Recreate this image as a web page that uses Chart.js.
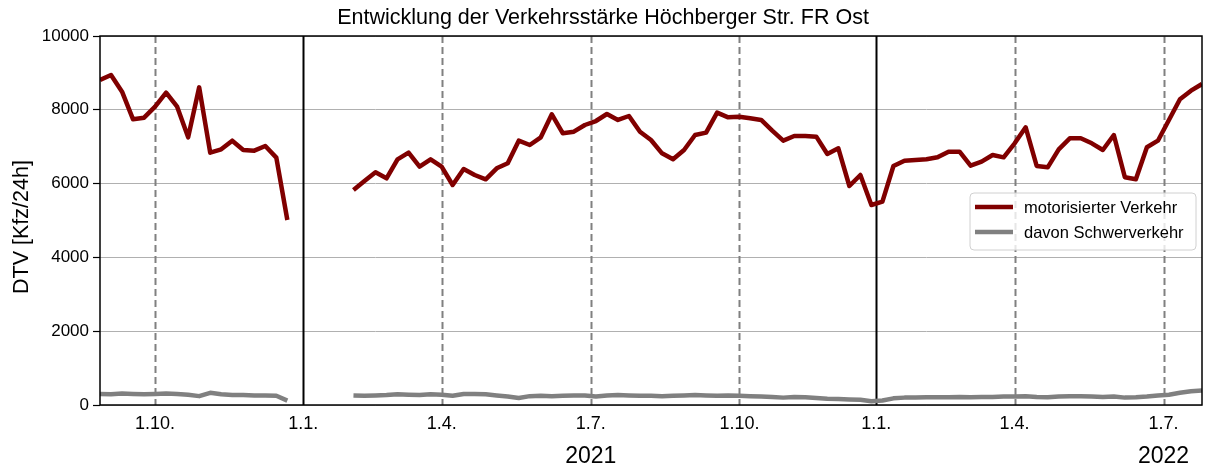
<!DOCTYPE html>
<html><head><meta charset="utf-8">
<script src="https://cdn.jsdelivr.net/npm/chart.js@4/dist/chart.umd.min.js"></script>
<style>html,body{margin:0;padding:0;background:#fff}#wrap{width:1206px;height:471px;position:relative}</style>
</head><body><div id="wrap"><canvas id="c" width="1206" height="471"></canvas></div>
<script>
// weekly values, one entry per calendar week (index 0 = late Aug 2020)
const motorisiert = [
 8808, 8943, 8491, 7742, 7786, 8085, 8464, 8085, 7254, 8609,
 6838, 6929, 7163, 6911, 6893, 7019, 6703, 5014, null, null,
 null, null, null, 5827, 6070, 6305, 6143, 6658, 6838, 6458,
 6658, 6458, 5962, 6396, 6233, 6116, 6414, 6550, 7163, 7046,
 7254, 7878, 7363, 7407, 7588, 7696, 7886, 7724, 7832, 7407,
 7182, 6820, 6658, 6911, 7317, 7381, 7922, 7796, 7814, 7769,
 7724, 7434, 7163, 7290, 7290, 7272, 6802, 6957, 5935, 6233,
 5420, 5510, 6477, 6621, 6640, 6658, 6712, 6865, 6865, 6485,
 6594, 6775, 6712, 7092, 7525, 6477, 6441, 6929, 7227, 7227,
 7092, 6911, 7317, 6171, 6116, 6984, 7163, 7724, 8285, 8518,
 8699
];
const schwer = [
 300, 290, 310, 300, 290, 300, 310, 300, 280, 240,
 330, 290, 270, 270, 260, 260, 250, 120, null, null,
 null, null, null, 260, 250, 260, 270, 290, 280, 270,
 290, 280, 250, 300, 300, 290, 260, 230, 190, 240,
 250, 240, 250, 260, 260, 230, 260, 270, 260, 250,
 250, 240, 250, 260, 270, 260, 250, 260, 250, 240,
 230, 220, 200, 220, 210, 190, 170, 160, 150, 140,
 100, 120, 180, 200, 200, 210, 210, 210, 220, 210,
 220, 220, 230, 230, 240, 220, 210, 230, 240, 240,
 230, 220, 230, 200, 210, 230, 260, 280, 330, 370,
 390
];
const seriesNames = ['motorisierter Verkehr', 'davon Schwerverkehr'];
const seriesColors = ['#800000', '#808080'];
// x-axis ticks (position in weeks) and labels
const tickPos    = [4.99, 18.45, 31.02, 44.54, 58.03, 70.43, 82.99, 96.51];
const tickLabels = ['1.10.', '1.1.', '1.4.', '1.7.', '1.10.', '1.1.', '1.4.', '1.7.'];
const yearStart  = [false, true, false, false, false, true, false, false];
const yearLabels = ['', '', '', '2021', '', '', '', '2022'];
const yTicks = [0, 2000, 4000, 6000, 8000, 10000];
const chartTitle = 'Entwicklung der Verkehrsstärke Höchberger Str. FR Ost';
const yTitle = 'DTV [Kfz/24h]';

const FONT = "'Liberation Sans', Arial, sans-serif";

const deco = {
  id: 'deco',
  beforeDatasetsDraw(chart) {
    const {ctx, chartArea: a, scales: {x}} = chart;
    ctx.save();
    ctx.beginPath(); ctx.rect(a.left, a.top, a.right - a.left, a.bottom - a.top); ctx.clip();
    tickPos.forEach((v, i) => {
      const px = Math.round(x.getPixelForValue(v)) + 0.5;
      ctx.beginPath();
      if (yearStart[i]) { ctx.strokeStyle = '#000'; ctx.lineWidth = 2; ctx.setLineDash([]); }
      else { ctx.strokeStyle = '#808080'; ctx.lineWidth = 2; ctx.setLineDash([7, 4]); }
      ctx.moveTo(px, a.top); ctx.lineTo(px, a.bottom); ctx.stroke();
    });
    ctx.restore();
  },
  afterDraw(chart) {
    const {ctx, chartArea: a, scales: {x}} = chart;
    ctx.save();
    // frame
    ctx.strokeStyle = '#000'; ctx.lineWidth = 1.5; ctx.setLineDash([]);
    ctx.strokeRect(a.left, a.top, a.right - a.left, a.bottom - a.top);
    // title (figure-centred)
    ctx.fillStyle = '#000'; ctx.font = '21.5px ' + FONT;
    ctx.textAlign = 'center'; ctx.textBaseline = 'middle';
    ctx.fillText(chartTitle, chart.width / 2, 18);
    // y axis title
    ctx.save();
    ctx.translate(22, 227); ctx.rotate(-Math.PI / 2);
    ctx.fillText(yTitle, 0, 0);
    ctx.restore();
    // year labels
    ctx.font = '23px ' + FONT;
    yearLabels.forEach((t, i) => { if (t) ctx.fillText(t, x.getPixelForValue(tickPos[i]), 457); });
    // legend
    const bx = 970, by = 193, bw = 226, bh = 57, r = 4;
    ctx.beginPath();
    ctx.moveTo(bx + r, by); ctx.lineTo(bx + bw - r, by); ctx.arcTo(bx + bw, by, bx + bw, by + r, r);
    ctx.lineTo(bx + bw, by + bh - r); ctx.arcTo(bx + bw, by + bh, bx + bw - r, by + bh, r);
    ctx.lineTo(bx + r, by + bh); ctx.arcTo(bx, by + bh, bx, by + bh - r, r);
    ctx.lineTo(bx, by + r); ctx.arcTo(bx, by, bx + r, by, r); ctx.closePath();
    ctx.fillStyle = 'rgba(255,255,255,0.8)'; ctx.fill();
    ctx.strokeStyle = '#d0d0d0'; ctx.lineWidth = 1; ctx.stroke();
    ctx.font = '16.5px ' + FONT; ctx.textAlign = 'left';
    seriesNames.forEach((n, i) => {
      const yy = by + 14 + i * 25;
      ctx.strokeStyle = seriesColors[i]; ctx.lineWidth = 4.5;
      ctx.beginPath(); ctx.moveTo(bx + 5, yy); ctx.lineTo(bx + 43, yy); ctx.stroke();
      ctx.fillStyle = '#000'; ctx.fillText(n, bx + 54, yy + 1);
    });
    ctx.restore();
  }
};

new Chart(document.getElementById('c'), {
  type: 'line',
  data: {
    datasets: [
      { label: seriesNames[0], data: motorisiert.map((v, i) => ({x: i, y: v})), borderColor: seriesColors[0], borderWidth: 4.5, pointRadius: 0, tension: 0, spanGaps: false, borderJoinStyle: 'round', borderCapStyle: 'butt' },
      { label: seriesNames[1], data: schwer.map((v, i) => ({x: i, y: v})), borderColor: seriesColors[1], borderWidth: 4.5, pointRadius: 0, tension: 0, spanGaps: false, borderJoinStyle: 'round' }
    ]
  },
  options: {
    responsive: false, animation: false, devicePixelRatio: 1,
    layout: { padding: { top: 36, right: 4, left: 0, bottom: 0 } },
    plugins: { legend: { display: false }, title: { display: false }, tooltip: { enabled: false } },
    scales: {
      x: {
        type: 'linear', min: 0, max: motorisiert.length - 1,
        afterFit(s) { s.height = 66; },
        afterBuildTicks(s) { s.ticks = tickPos.map(v => ({ value: v })); },
        ticks: { callback: (v, i) => tickLabels[i], font: { family: FONT, size: 18 }, color: '#000', padding: 8, maxRotation: 0, autoSkip: false },
        grid: { display: false, drawTicks: false },
        border: { display: false }
      },
      y: {
        min: 0, max: 10000,
        afterFit(s) { s.width = 100; },
        afterBuildTicks(s) { s.ticks = yTicks.map(v => ({ value: v })); },
        ticks: { callback: v => String(v), font: { family: FONT, size: 17 }, color: '#000', padding: 4 },
        grid: { color: '#b0b0b0', lineWidth: 1, tickLength: 7, tickColor: '#000', tickWidth: 1.2 },
        border: { display: false },
        title: { display: false }
      }
    }
  },
  plugins: [deco]
});
</script></body></html>
